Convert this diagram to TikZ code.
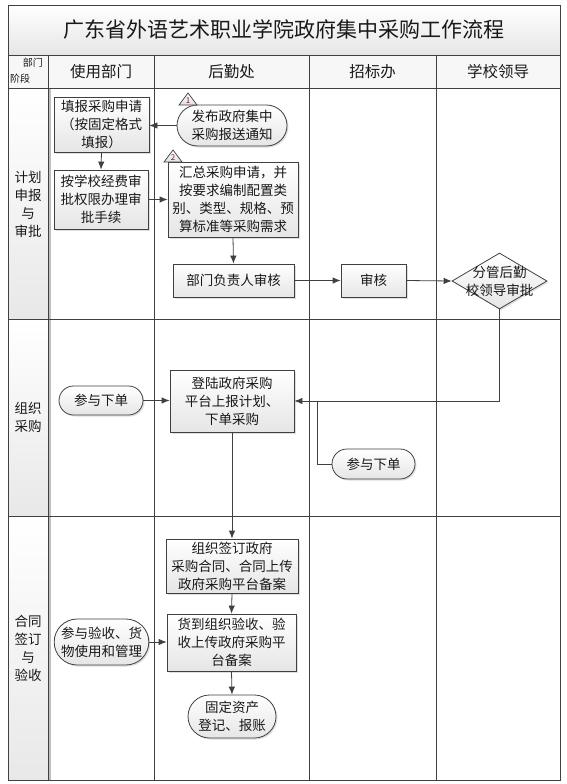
\documentclass[tikz,border=0pt]{standalone}
\usepackage{fontspec}
\setmainfont{Noto Sans CJK SC}
\usepackage{tikz}
\usetikzlibrary{calc,arrows.meta,shapes.geometric,shapes.misc,shadows}
\definecolor{markred}{RGB}{120,20,70}
\newcommand\boxfont{\fontsize{13.5bp}{18bp}\selectfont}

\begin{document}
\begin{tikzpicture}[x=1bp,y=-1bp,
    grid/.style={draw=black!75,line width=0.8bp},
    box/.style={draw=black!75,line width=0.8bp,rectangle,top color=white,bottom color=black!10,
      drop shadow={opacity=0.25,shadow xshift=1.5bp,shadow yshift=-1.5bp},
      align=center,font=\boxfont,text=black!90,inner sep=1bp},
    pill/.style={box,rounded rectangle},
    decision/.style={box,diamond,inner sep=0pt},
    conn/.style={draw=black!75,line width=0.8bp,-{Latex[length=8bp,width=6.5bp]}},
    marker/.style={draw=black!75,line width=0.7bp,top color=white,bottom color=black!12},
    marknum/.style={text=markred,font=\fontsize{8bp}{8bp}\selectfont,inner sep=0pt}]
  \useasboundingbox (0,0) rectangle (567,784);
  % frame and lanes
  \shade[top color=white,bottom color=black!10] (8,5) rectangle (560,55);
  \fill[black!3] (8,55) rectangle (560,88);
  \shade[top color=white,bottom color=black!9] (8,88) rectangle (48,319);
  \shade[top color=white,bottom color=black!9] (8,319) rectangle (48,516);
  \shade[top color=white,bottom color=black!9] (8,516) rectangle (48,780);
  \draw[black!25,line width=1.2bp] (50,88) -- (50,780);
  \draw[grid] (8,5) rectangle (560,780);
  \draw[grid] (8,55) -- (560,55);
  \draw[grid] (8,88) -- (560,88);
  \draw[grid] (8,319) -- (560,319);
  \draw[grid] (8,516) -- (560,516);
  \draw[grid] (48,55) -- (48,780);
  \draw[grid] (154,55) -- (154,780);
  \draw[grid] (309,55) -- (309,780);
  \draw[grid] (436,55) -- (436,780);
  \node[font=\fontsize{21bp}{21bp}\selectfont,text=black!90] (title) at (284,30) {广东省外语艺术职业学院政府集中采购工作流程};
  \node[font=\fontsize{10bp}{10bp}\selectfont,text=black!90,anchor=east,inner sep=0pt] (dept) at (43,63) {部门};
  \node[font=\fontsize{10bp}{10bp}\selectfont,text=black!90,anchor=west,inner sep=0pt] (stage) at (10,79) {阶段};
  \node[font=\fontsize{15.5bp}{15.5bp}\selectfont,text=black!90] (user) at (101,71.5) {使用部门};
  \node[font=\fontsize{15.5bp}{15.5bp}\selectfont,text=black!90] (logis) at (231.5,71.5) {后勤处};
  \node[font=\fontsize{15.5bp}{15.5bp}\selectfont,text=black!90] (bid) at (372.5,71.5) {招标办};
  \node[font=\fontsize{15.5bp}{15.5bp}\selectfont,text=black!90] (school) at (498,71.5) {学校领导};
  \node[font=\boxfont,text=black!90,align=center] (plan) at (28,204) {计划\\申报\\与\\审批};
  \node[font=\boxfont,text=black!90,align=center] (org) at (28,417.5) {组织\\采购};
  \node[font=\boxfont,text=black!90,align=center] (sign) at (28,648) {合同\\签订\\与\\验收};
  % stage 1
  \node[box,minimum width=95bp,minimum height=55bp] (fill) at (101.5,124.5) {填报采购申请\\（按固定格式\\填报）};
  \node[box,minimum width=94bp,minimum height=59bp] (approve) at (101,199.5) {按学校经费审\\批权限办理审\\批手续};
  \node[pill,minimum width=112bp,minimum height=41bp] (notice) at (232,125.5) {发布政府集中\\采购报送通知};
  \node[box,minimum width=130bp,minimum height=75bp] (summary) at (233,199.5) {汇总采购申请，并\\按要求编制配置类\\别、类型、规格、预\\算标准等采购需求};
  \node[box,minimum width=121bp,minimum height=33bp] (deptcheck) at (233.5,280.5) {部门负责人审核};
  \node[box,minimum width=65bp,minimum height=33bp] (bidcheck) at (373.5,280.5) {审核};
  \node[decision,minimum width=95bp,minimum height=56bp,
    label={[font=\boxfont,text=black!90,align=center]center:{分管后勤\\校领导审批}}] (lead) at (499.5,281) {};
  \draw[marker] (179,105) -- (188,93) -- (197,105) -- cycle;
  \node[marknum] (num1) at (188,100.5) {1};
  \draw[marker] (164,162) -- (173,150) -- (182,162) -- cycle;
  \node[marknum] (num2) at (173,157.5) {2};
  \draw[conn] (notice.west) -- (notice.west -| fill.east);
  \draw[conn] (fill.south) -- (approve.north);
  \draw[conn] (approve.east) -- (summary.west);
  \draw[conn] (summary.south) -- (deptcheck.north);
  \draw[conn] (deptcheck.east) -- (bidcheck.west);
  \draw[conn] (bidcheck.east) -- (lead.west);
  % stage 2
  \node[box,minimum width=124bp,minimum height=62bp] (login) at (232,401) {登陆政府采购\\平台上报计划、\\下单采购};
  \node[pill,minimum width=86bp,minimum height=29bp] (join1) at (101,400.5) {参与下单};
  \node[pill,minimum width=85bp,minimum height=30bp] (join2) at (373.5,464) {参与下单};
  \draw[conn] (lead.south) |- (login.east);
  \draw[conn] (join1.east) -- (join1.east -| login.west);
  \draw[grid] (join2.west) -| ($(login.east)+(23,0)$);
  % stage 3
  \node[box,minimum width=132bp,minimum height=54bp] (contract) at (232,566) {组织签订政府\\采购合同、合同上传\\政府采购平台备案};
  \node[box,minimum width=129bp,minimum height=57bp] (accept) at (231.5,642.5) {货到组织验收、验\\收上传政府采购平\\台备案};
  \node[pill,minimum width=93bp,minimum height=46bp] (useacc) at (101.5,642) {参与验收、货\\物使用和管理};
  \node[pill,minimum width=90bp,minimum height=43bp] (asset) at (232,716.5) {固定资产\\登记、报账};
  \draw[conn] (login.south) -- (contract.north);
  \draw[conn] (contract.south) -- (accept.north);
  \draw[conn] (useacc.east) -- (useacc.east -| accept.west);
  \draw[conn] (accept.south) -- (asset.north);
\end{tikzpicture}
\end{document}
